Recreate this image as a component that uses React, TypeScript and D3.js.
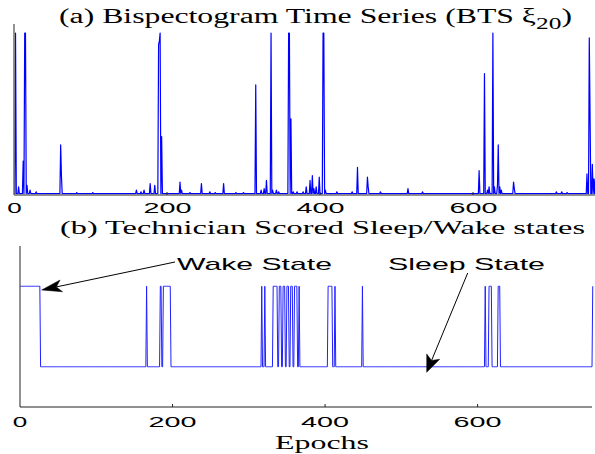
import React from 'react';
import * as d3 from 'd3';

// ---- Data ----
const TOP_TICKS = [0, 200, 400, 600];
const BOTTOM_TICKS = [0, 200, 400, 600];
const BTS_LAST_EPOCH = 760;
const BTS_BASELINE = 0.008;
const spikeEpochs = [
  2, 6, 12, 14, 15, 17, 21, 29, 61, 62, 82, 103,
  160, 166, 170, 178, 184, 189, 190, 191, 193,
  217, 219, 230, 245, 256, 263, 274, 290, 300,
  316, 323, 327, 330, 336, 338, 343, 346, 359, 360, 362, 365, 370,
  378, 382, 387, 390, 392, 395, 399, 404, 405, 407,
  422, 442, 449, 462, 463, 479, 515, 534,
  608, 615, 619, 621, 626, 628, 632, 633, 635, 637, 653, 654,
  709, 716, 723, 749, 752, 753, 756, 758, 760,
];
const spikeValues = [
  1.0, 0.05, 0.21, 1.0, 1.0, 0.06, 0.03, 0.02, 0.31, 0.12, 0.015, 0.015,
  0.03, 0.02, 0.03, 0.07, 0.06, 0.93, 0.95, 1.0, 0.36,
  0.08, 0.03, 0.015, 0.07, 0.02, 0.015, 0.07, 0.015, 0.015,
  0.68, 0.03, 0.04, 0.09, 1.0, 0.03, 0.03, 0.02, 1.0, 1.0, 0.47, 0.02, 0.02,
  0.02, 0.05, 0.09, 0.12, 0.04, 0.05, 0.11, 1.0, 1.0, 0.03,
  0.02, 0.02, 0.17, 0.11, 0.05, 0.02, 0.04, 0.02,
  0.15, 0.75, 0.03, 0.05, 1.0, 0.05, 0.06, 0.31, 0.05, 0.03, 0.08, 0.04,
  0.02, 0.02, 0.015, 0.13, 0.97, 0.5, 0.19, 0.1, 0.1,
];

const STATE_LAST_EPOCH = 751;
const SLEEP = 1;
const WAKE = 2;
const wakeStarts = [0, 166, 184, 188, 317, 321, 332, 340, 345, 350, 355, 360, 366, 404, 413, 449, 610, 615, 627, 751];
const wakeEnds = [26, 166, 185, 197, 317, 321, 337, 342, 347, 352, 357, 363, 366, 409, 413, 449, 610, 618, 629, 751];

const TITLE_A = '(a) Bispectogram Time Series (BTS ξ';
const TITLE_A_SUB = '20';
const TITLE_B = '(b) Technician Scored Sleep/Wake states';
const X_LABEL = 'Epochs';
const WAKE_LABEL = 'Wake State';
const SLEEP_LABEL = 'Sleep State';

// ---- Layout ----
const W = 595;
const H = 454;
const SERIF = '"Liberation Serif", "Times New Roman", serif';
const SANS = '"Liberation Sans", Arial, Helvetica, sans-serif';

function Arrow({ x1, y1, x2, y2, len, half }: { x1: number; y1: number; x2: number; y2: number; len: number; half: number }) {
  const dx = x2 - x1;
  const dy = y2 - y1;
  const d = Math.hypot(dx, dy);
  const ux = dx / d;
  const uy = dy / d;
  const px = -uy;
  const py = ux;
  const bx = x2 - ux * len;
  const by = y2 - uy * len;
  const nx = x2 - ux * len * 0.75;
  const ny = y2 - uy * len * 0.75;
  const head = `M${x2},${y2} L${bx + px * half},${by + py * half} L${nx},${ny} L${bx - px * half},${by - py * half} Z`;
  return (
    <g>
      <line x1={x1} y1={y1} x2={nx} y2={ny} stroke="#000" strokeWidth={1} />
      <path d={head} fill="#000" stroke="#000" strokeWidth={0.5} />
    </g>
  );
}

export default function App() {
  // Top chart scales
  const xTop = d3.scaleLinear().domain([0, 760]).range([14, 595.4]);
  const yTop = d3.scaleLinear().domain([0, 1.056]).range([195, 24]);

  const spikeMap = new Map<number, number>();
  spikeEpochs.forEach((e, i) => spikeMap.set(e, spikeValues[i]));
  const bts = d3.range(0, BTS_LAST_EPOCH + 1).map((e) => ({ e, v: spikeMap.has(e) ? (spikeMap.get(e) as number) : BTS_BASELINE }));
  const topLine = d3
    .line<{ e: number; v: number }>()
    .x((d) => xTop(d.e))
    .y((d) => yTop(d.v))(bts) as string;

  // Bottom chart scales
  const xBot = d3.scaleLinear().domain([0, 750]).range([20, 592]);
  const yBot = d3.scaleLinear().domain([0.5, 2.5]).range([407, 246]);
  const states = d3.range(0, STATE_LAST_EPOCH + 1).map((e) => {
    const isWake = wakeStarts.some((s, i) => e >= s && e <= wakeEnds[i]);
    return { e, v: isWake ? WAKE : SLEEP };
  });
  const botLine = d3
    .line<{ e: number; v: number }>()
    .x((d) => xBot(d.e))
    .y((d) => yBot(d.v))(states) as string;

  const tickLabelWidth = (t: number) => (String(t).length === 1 ? 14.5 : 48);

  return (
    <svg width={W} height={H} style={{ position: 'absolute', left: 0, top: 0, background: '#fff' }}>
      <rect x={0} y={0} width={W} height={H} fill="#fff" />

      {/* Title (a) */}
      <text x={59} y={23} fontFamily={SERIF} fontSize={20} fill="#000" textLength={513} lengthAdjust="spacingAndGlyphs">
        {TITLE_A}
        <tspan dy={6} fontSize={16}>{TITLE_A_SUB}</tspan>
        <tspan dy={-6}>)</tspan>
      </text>

      {/* Top chart */}
      <g>
        <path d={topLine} fill="none" stroke="#0000ff" strokeWidth={1.2} strokeLinejoin="round" />
        <line x1={14} y1={24} x2={14} y2={195} stroke="#6e6e6e" strokeWidth={1.5} />
        <line x1={14} y1={195} x2={595} y2={195} stroke="#6e6e6e" strokeWidth={1.3} />
        {TOP_TICKS.filter((t) => t > 0).map((t) => (
          <line key={t} x1={xTop(t)} x2={xTop(t)} y1={195} y2={192} stroke="#222" strokeWidth={1} />
        ))}
        {TOP_TICKS.map((t) => (
          <text
            key={t}
            x={xTop(t) - tickLabelWidth(t) / 2 + 0.5}
            y={213}
            fontFamily={SANS}
            fontSize={14}
            fill="#000"
            textLength={tickLabelWidth(t)}
            lengthAdjust="spacingAndGlyphs"
          >
            {t}
          </text>
        ))}
      </g>

      {/* Title (b) */}
      <text x={60} y={234} fontFamily={SERIF} fontSize={19} fill="#000" textLength={525} lengthAdjust="spacingAndGlyphs">
        {TITLE_B}
      </text>

      {/* Bottom chart */}
      <g>
        <path d={botLine} fill="none" stroke="#2020ff" strokeWidth={1} />
        <line x1={20} y1={246} x2={20} y2={407} stroke="#555" strokeWidth={1.3} />
        <line x1={20} y1={407} x2={592} y2={407} stroke="#222" strokeWidth={1.2} />
        {BOTTOM_TICKS.filter((t) => t > 0).map((t) => (
          <line key={t} x1={xBot(t)} x2={xBot(t)} y1={407} y2={404} stroke="#222" strokeWidth={1} />
        ))}
        {BOTTOM_TICKS.map((t) => (
          <text
            key={t}
            x={xBot(t) - tickLabelWidth(t) / 2}
            y={427}
            fontFamily={SANS}
            fontSize={14}
            fill="#000"
            textLength={tickLabelWidth(t)}
            lengthAdjust="spacingAndGlyphs"
          >
            {t}
          </text>
        ))}
        <text x={275} y={449} fontFamily={SERIF} fontSize={18} fill="#000" textLength={94} lengthAdjust="spacingAndGlyphs">
          {X_LABEL}
        </text>

        {/* Annotations */}
        <text x={177} y={270} fontFamily={SANS} fontSize={17} fill="#000" textLength={155} lengthAdjust="spacingAndGlyphs">
          {WAKE_LABEL}
        </text>
        <Arrow x1={175} y1={262} x2={41.7} y2={290} len={20} half={6} />
        <text x={388} y={270} fontFamily={SANS} fontSize={17} fill="#000" textLength={157} lengthAdjust="spacingAndGlyphs">
          {SLEEP_LABEL}
        </text>
        <Arrow x1={467.7} y1={273} x2={426.7} y2={372.3} len={17} half={7} />
      </g>
    </svg>
  );
}
